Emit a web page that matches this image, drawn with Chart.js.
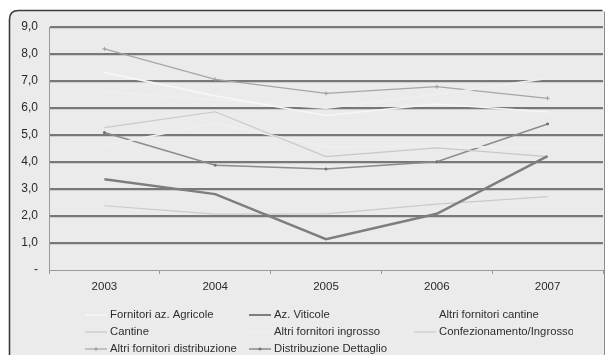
<!DOCTYPE html>
<html>
<head>
<meta charset="utf-8">
<script src="https://cdn.jsdelivr.net/npm/chart.js@4.4.0/dist/chart.umd.min.js"></script>
<style>
  html, body { margin: 0; padding: 0; background: #ffffff; }
  #wrap { width: 606px; height: 355px; position: relative; }
</style>
</head>
<body>
<div id="wrap"><canvas id="c" width="606" height="355"></canvas></div>
<script>
// Categories and tick labels
const years = ['2003', '2004', '2005', '2006', '2007'];
const yTickLabels = ['-', '1,0', '2,0', '3,0', '4,0', '5,0', '6,0', '7,0', '8,0', '9,0'];

// Series values (indices per year)
const fornitoriAzAgricole = [7.32, 6.45, 5.72, 6.15, 5.85];
const azViticole = [3.36, 2.81, 1.14, 2.08, 4.22];
const altriFornitoriCantine = [6.6, 6.3, 6.0, 6.5, 7.1];
const cantine = [5.27, 5.86, 4.2, 4.52, 4.2];
const altriFornitoriIngrosso = [4.6, 5.45, 4.55, 4.6, 4.5];
const confezionamentoIngrosso = [2.38, 2.07, 2.08, 2.44, 2.72];
const altriFornitoriDistribuzione = [8.19, 7.06, 6.54, 6.79, 6.36];
const distribuzioneDettaglio = [5.09, 3.88, 3.74, 4.01, 5.41];

const seriesNames = [
  'Fornitori az. Agricole', 'Az. Viticole', 'Altri fornitori cantine',
  'Cantine', 'Altri fornitori ingrosso', 'Confezionamento/Ingrosso',
  'Altri fornitori distribuzione', 'Distribuzione Dettaglio'
];

const FONT = '"Liberation Sans", Arial, sans-serif';
const PANEL = '#ebebeb';

function line(label, data, color, width, extra) {
  return Object.assign({
    label, data,
    borderColor: color, backgroundColor: color,
    borderWidth: width, tension: 0, fill: false,
    pointRadius: 0, pointHoverRadius: 0
  }, extra || {});
}

const datasets = [
  line(seriesNames[0], fornitoriAzAgricole, '#f6f6f6', 1.6),
  line(seriesNames[1], azViticole, '#7e7e7e', 2.5),
  line(seriesNames[2], altriFornitoriCantine, '#eeeeee', 1.8),
  line(seriesNames[3], cantine, '#c8c8c8', 1.2),
  line(seriesNames[4], altriFornitoriIngrosso, '#eeeeee', 1.8),
  line(seriesNames[5], confezionamentoIngrosso, '#cacaca', 1.2),
  line(seriesNames[6], altriFornitoriDistribuzione, '#a6a6a6', 1.2,
       { pointStyle: 'cross', pointRadius: 2, pointBorderWidth: 1, pointBorderColor: '#9e9e9e' }),
  line(seriesNames[7], distribuzioneDettaglio, '#8c8c8c', 1.5,
       { pointStyle: 'rect', pointRadius: 1.2, pointBorderWidth: 1, pointBorderColor: '#707070', pointBackgroundColor: '#707070' })
];

// Panel with rounded frame behind everything
const framePlugin = {
  id: 'frame',
  beforeDraw(chart) {
    const ctx = chart.ctx;
    ctx.save();
    ctx.fillStyle = '#ffffff';
    ctx.fillRect(0, 0, chart.width, chart.height);
    const x0 = 9.5, y0 = 10.5, x1 = 604.5, y1 = 370, r = 9;
    ctx.beginPath();
    ctx.moveTo(x0, y1);
    ctx.lineTo(x0, y0 + r);
    ctx.quadraticCurveTo(x0, y0, x0 + r, y0);
    ctx.lineTo(x1 - 2, y0);
    ctx.quadraticCurveTo(x1, y0, x1, y0 + 2);
    ctx.lineTo(x1, y1);
    ctx.closePath();
    ctx.fillStyle = PANEL;
    ctx.fill();
    ctx.lineWidth = 1.6;
    ctx.strokeStyle = '#3c3c3c';
    ctx.beginPath();
    ctx.moveTo(x0, y1);
    ctx.lineTo(x0, y0 + r);
    ctx.quadraticCurveTo(x0, y0, x0 + r, y0);
    ctx.lineTo(x1 - 2, y0);
    ctx.stroke();
    ctx.lineWidth = 1;
    ctx.strokeStyle = '#8c8c8c';
    ctx.beginPath();
    ctx.moveTo(x1, y0 + 1);
    ctx.lineTo(x1, y1);
    ctx.stroke();
    ctx.restore();
  }
};

// Three-column legend under the plot
const gridLegendPlugin = {
  id: 'gridLegend',
  afterDraw(chart) {
    const ctx = chart.ctx;
    const colX = [85, 249, 414];
    const rowY = [315, 332, 349];
    const swatch = 22;
    const clipRight = 573;
    ctx.save();
    ctx.font = '11.3px ' + FONT;
    ctx.textBaseline = 'middle';
    ctx.textAlign = 'left';
    chart.data.datasets.forEach((ds, i) => {
      const col = i % 3, row = Math.floor(i / 3);
      const x = colX[col], y = rowY[row];
      ctx.save();
      ctx.beginPath();
      ctx.rect(x - 2, y - 10, clipRight - x + 2, 20);
      ctx.clip();
      ctx.strokeStyle = ds.borderColor;
      ctx.lineWidth = Math.min(ds.borderWidth, 2);
      ctx.beginPath();
      ctx.moveTo(x, y);
      ctx.lineTo(x + swatch, y);
      ctx.stroke();
      if (ds.pointRadius) {
        ctx.fillStyle = ds.pointBackgroundColor || ds.pointBorderColor;
        ctx.strokeStyle = ds.pointBorderColor;
        ctx.lineWidth = 1;
        Chart.helpers.drawPoint(ctx, {
          pointStyle: ds.pointStyle, radius: ds.pointRadius, borderWidth: 1
        }, x + swatch / 2, y);
      }
      ctx.fillStyle = '#2e2e2e';
      ctx.fillText(ds.label, x + swatch + 3, y);
      ctx.restore();
    });
    ctx.restore();
  }
};

new Chart(document.getElementById('c'), {
  type: 'line',
  data: { labels: years, datasets },
  plugins: [framePlugin, gridLegendPlugin],
  options: {
    responsive: false,
    animation: false,
    devicePixelRatio: 1,
    layout: { padding: { left: 0, right: 1, top: 27, bottom: 0 } },
    plugins: { legend: { display: false }, tooltip: { enabled: false } },
    scales: {
      x: {
        offset: true,
        afterFit(s) { s.height = 85; },
        grid: {
          display: true, drawOnChartArea: false, drawTicks: true, offset: true,
          tickLength: 4, color: '#9a9a9a', lineWidth: 1
        },
        border: { display: true, color: '#9a9a9a', width: 1 },
        ticks: { color: '#2a2a2a', padding: 6, font: { family: FONT, size: 11.5 } }
      },
      y: {
        min: 0, max: 9,
        afterFit(s) { s.width = 49; },
        ticks: {
          stepSize: 1, padding: 11, color: '#2a2a2a',
          font: { family: FONT, size: 12 },
          callback: (v, i) => yTickLabels[i]
        },
        grid: {
          drawTicks: false,
          color: (c) => (c.tick && c.tick.value === 0) ? 'rgba(0,0,0,0)' : '#787878',
          lineWidth: 2.2
        },
        border: { display: true, color: '#9a9a9a', width: 1 }
      }
    }
  }
});
</script>
</body>
</html>
